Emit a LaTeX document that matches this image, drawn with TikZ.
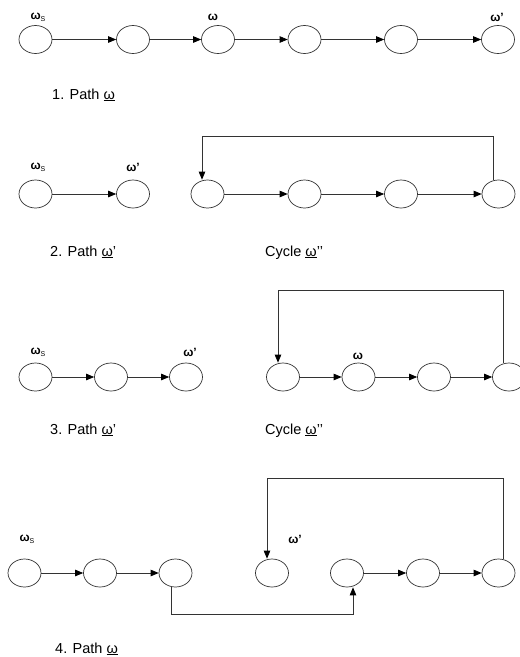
\documentclass[tikz,border=0pt]{standalone}
\usepackage{fontspec}
\setmainfont{Liberation Sans}
\usetikzlibrary{arrows.meta,shapes.geometric,calc}

% underlined omega used in the captions
\newcommand\wul{\underline{ω}}
% omega with subscript S
\newcommand\ws{ω\raisebox{-2pt}{\fontsize{7}{7}\mdseries\selectfont S}}

\begin{document}
\begin{tikzpicture}[x=1pt,y=-1pt,
  state/.style={ellipse,draw=black!80,line width=0.7pt,minimum width=33pt,minimum height=28pt,inner sep=0pt},
  edge/.style={draw=black!80,line width=0.75pt,-{Triangle[length=8pt,width=6.5pt,color=black]}},
  tag/.style={font=\fontsize{12}{12}\bfseries\selectfont,inner sep=0pt},
  caption/.style={font=\fontsize{14.5}{16}\selectfont,anchor=base west,inner sep=0pt}]
\useasboundingbox (0,0) rectangle (520,657);

% ---------- 1. Path omega ----------
\foreach \n/\x in {a/35.5,b/133,c/218,d/304.5,e/401,f/498}
  \node[state] (p1\n) at (\x,39.5) {};
\foreach \u/\v in {a/b,b/c,c/d,d/e,e/f}
  \draw[edge] (p1\u) -- (p1\v);
\node[tag] (l1s) at (38,17) {\ws};
\node[tag] (l1w) at (213,17) {ω};
\node[tag] (l1p) at (497,17) {ω'};
\node[caption] (t1) at (52,99) {1. Path \wul};

% ---------- 2. Path omega' and cycle omega'' ----------
\node[state] (p2a) at (35.5,194) {};
\node[state] (p2b) at (133,194) {};
\draw[edge] (p2a) -- (p2b);
\foreach \n/\x in {a/207.5,b/304.5,c/401,d/498.5}
  \node[state] (c2\n) at (\x,194) {};
\foreach \u/\v in {a/b,b/c,c/d}
  \draw[edge] (c2\u) -- (c2\v);
\coordinate (k2r) at ($(c2d.north)+(-5.5,0)$);
\coordinate (k2l) at ($(c2a.north)+(-5.5,0)$);
\draw[edge] (k2r) -- (k2r |- 0,136) -- (k2l |- 0,136) -- (k2l);
\node[tag] (l2s) at (38,167) {\ws};
\node[tag] (l2p) at (133,167) {ω'};
\node[caption] (t2) at (50,256) {2. Path \wul'};
\node[caption] (t2c) at (265,256) {Cycle \wul’’};

% ---------- 3. Path omega' and cycle omega'' ----------
\foreach \n/\x in {a/35.5,b/111,c/186}
  \node[state] (p3\n) at (\x,377) {};
\draw[edge] (p3a) -- (p3b);
\draw[edge] (p3b) -- (p3c);
\foreach \n/\x in {a/283,b/358.5,c/434,d/509}
  \node[state] (c3\n) at (\x,377) {};
\foreach \u/\v in {a/b,b/c,c/d}
  \draw[edge] (c3\u) -- (c3\v);
\coordinate (k3r) at ($(c3d.north)+(-6,0)$);
\coordinate (k3l) at ($(c3a.north)+(-5,0)$);
\draw[edge] (k3r) -- (k3r |- 0,290) -- (k3l |- 0,290) -- (k3l);
\node[tag] (l3s) at (38,352) {\ws};
\node[tag] (l3p) at (190,352) {ω'};
\node[tag] (l3w) at (358,356) {ω};
\node[caption] (t3) at (50,434) {3. Path \wul'};
\node[caption] (t3c) at (265,434) {Cycle \wul’’};

% ---------- 4. Path omega ----------
\foreach \n/\x in {a/24.5,b/100,c/175.5}
  \node[state] (p4\n) at (\x,573) {};
\draw[edge] (p4a) -- (p4b);
\draw[edge] (p4b) -- (p4c);
\node[state] (q4) at (272,573) {};
\foreach \n/\x in {a/347,b/423,c/498.5}
  \node[state] (c4\n) at (\x,573) {};
\draw[edge] (c4a) -- (c4b);
\draw[edge] (c4b) -- (c4c);
\coordinate (k4r) at ($(c4c.north)+(4.5,0)$);
\coordinate (k4l) at ($(q4.north)+(-5,0)$);
\draw[edge] (k4r) -- (k4r |- 0,478) -- (k4l |- 0,478) -- (k4l);
\coordinate (b4s) at ($(p4c.south)+(-4.5,0)$);
\coordinate (b4e) at ($(c4a.south)+(6,0)$);
\draw[edge] (b4s) -- (b4s |- 0,614) -- (b4e |- 0,614) -- (b4e);
\node[tag] (l4s) at (27,539) {\ws};
\node[tag] (l4p) at (295,539) {ω'};
\node[caption] (t4) at (55,653) {4. Path \wul};
\end{tikzpicture}
\end{document}
